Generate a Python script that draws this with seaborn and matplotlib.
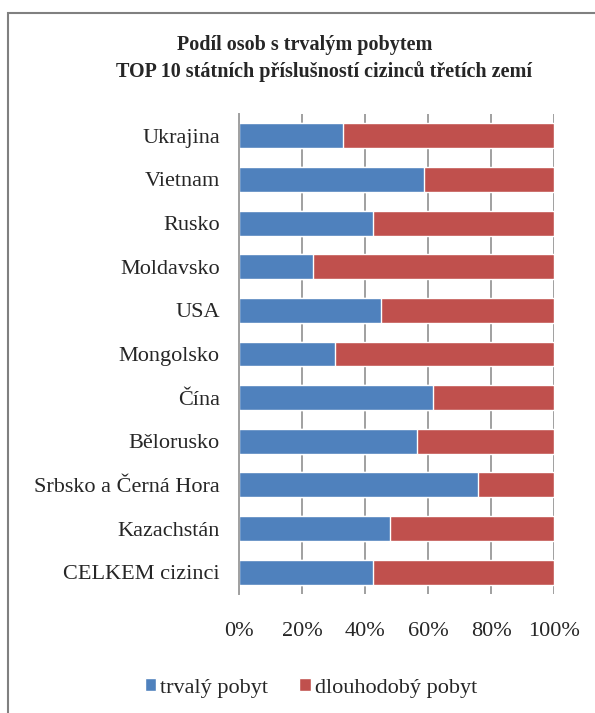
import matplotlib
matplotlib.use("Agg")
import matplotlib.pyplot as plt
import seaborn as sns
import pandas as pd
from matplotlib.patches import Rectangle, Patch

# data (share in %)
countries = ["Ukrajina", "Vietnam", "Rusko", "Moldavsko", "USA", "Mongolsko",
             "Čína", "Bělorusko", "Srbsko a Černá Hora", "Kazachstán", "CELKEM cizinci"]
trvaly = [33.0, 58.7, 42.6, 23.5, 45.0, 30.4, 61.5, 56.6, 75.9, 47.8, 42.6]
dlouhodoby = [100 - v for v in trvaly]
tick_values = [0, 20, 40, 60, 80, 100]
tick_labels = ["0%", "20%", "40%", "60%", "80%", "100%"]

df = pd.DataFrame({"stat": countries, "trvaly": trvaly, "dlouhodoby": dlouhodoby})
df["celkem"] = df["trvaly"] + df["dlouhodoby"]

blue = "#4F81BD"
red = "#C0504D"

sns.set_style("white")
plt.rcParams["font.family"] = ["Liberation Serif", "DejaVu Serif"]

W, H = 595, 713
fig = plt.figure(figsize=(W / 100, H / 100), dpi=100)
ax = fig.add_axes([239.3 / W, 1 - 594 / H, (554 - 239.3) / W, (594 - 114) / H])

# stacked: full bar in red, blue share drawn over it
sns.barplot(data=df, y="stat", x="celkem", color=red, width=0.57,
            saturation=1, orient="h", ax=ax)
sns.barplot(data=df, y="stat", x="trvaly", color=blue, width=0.57,
            saturation=1, orient="h", ax=ax)

ax.set_xlim(0, 100)
ax.set_xticks(tick_values)
ax.set_xticklabels(tick_labels, fontsize=16)
ax.tick_params(axis="x", length=0, pad=20)
ax.tick_params(axis="y", length=0, pad=14, labelsize=16)
ax.set_xlabel("")
ax.set_ylabel("")
ax.set_axisbelow(True)
ax.grid(axis="x", color="#a0a0a0", linewidth=1.4)
for side in ["top", "right", "bottom"]:
    ax.spines[side].set_visible(False)
ax.spines["left"].set_color("#a0a0a0")
ax.spines["left"].set_linewidth(1.4)

fig.text(305 / W, 1 - 45 / H, "Podíl osob s trvalým pobytem",
         ha="center", va="center", fontsize=14.5, fontweight="bold")
fig.text(324 / W, 1 - 72 / H, "TOP 10 státních příslušností cizinců třetích zemí",
         ha="center", va="center", fontsize=14.5, fontweight="bold")

handles = [Patch(facecolor=blue), Patch(facecolor=red)]
fig.legend(handles, ["trvalý pobyt", "dlouhodobý pobyt"], loc="center",
           bbox_to_anchor=(311 / W, 1 - 688 / H), ncol=2, frameon=False,
           fontsize=16, handlelength=0.5, handleheight=0.5, handletextpad=0.2,
           columnspacing=1.4)

# outer chart border (left and top edges visible)
fig.patches.append(Rectangle((7.5 / W, -0.05), 1.2, 1 - 13 / H + 0.05,
                             transform=fig.transFigure, fill=False,
                             edgecolor="#808080", linewidth=1.5))

fig.savefig("out.png", dpi=100)
